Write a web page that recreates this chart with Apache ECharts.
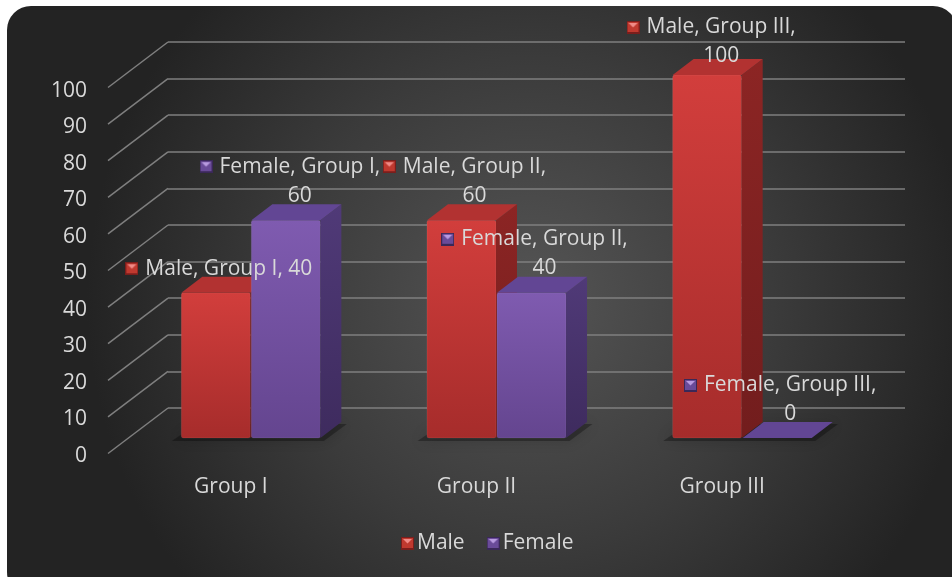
<!DOCTYPE html>
<html>
<head>
<meta charset="utf-8">
<script src="https://cdn.jsdelivr.net/npm/echarts@6/dist/echarts.min.js"></script>
<style>
  html, body { margin: 0; padding: 0; background: #ffffff; }
  #chart { width: 952px; height: 577px; }
</style>
</head>
<body>
<div id="chart"></div>
<script>
// ---- data ----
const categories = ['Group I', 'Group II', 'Group III'];
const seriesNames = ['Male', 'Female'];
const maleValues = [40, 60, 100];
const femaleValues = [60, 40, 0];
const yTicks = [0, 10, 20, 30, 40, 50, 60, 70, 80, 90, 100];

// ---- look ----
const FONT = '"Open Sans", "DejaVu Sans", sans-serif';
const FONT_SIZE = 21;
const TEXT = '#d9d9d9';
const GRID_LINE = '#7f7f7f';
const DEPTH_X = 21, DEPTH_Y = -16;         // receding offset of the box faces
const WALL_X = 60, WALL_Y = 45.5;          // floor depth between front and back wall
const palette = {
  Male:   { front: ['#d23e3c', '#a62c2b'], top: '#b23231', side: ['#8c2524', '#721d1d'], key: '#c0392f', keyHi: '#f08a86', keyLo: '#7a1e1c' },
  Female: { front: ['#7f5bb0', '#64458f'], top: '#624694', side: ['#503a78', '#3e2b5e'], key: '#6a4b99', keyHi: '#b89ae0', keyLo: '#3a2858' }
};
// label placement around each bar top: [dx, dy, wrap before value]
const labelPlacement = {
  Male:   [[3, -24, false], [3, -39, true], [4, -33, true]],
  Female: [[4, -39, true], [3, -39, true], [3, -38, true]]
};

// bevelled square used as legend / label key
function makeKey(c) {
  const s = 13, cv = document.createElement('canvas');
  cv.width = s; cv.height = s;
  const g = cv.getContext('2d');
  g.fillStyle = c.keyLo; g.fillRect(0, 0, s, s);
  g.fillStyle = c.key; g.fillRect(1, 1, s - 2, s - 3);
  g.fillStyle = c.keyHi;
  g.beginPath(); g.moveTo(2, 2); g.lineTo(s - 2, 2); g.lineTo(s / 2, s / 2); g.closePath(); g.fill();
  return cv;
}
const keys = { Male: makeKey(palette.Male), Female: makeKey(palette.Female) };

const chart = echarts.init(document.getElementById('chart'), null, { renderer: 'canvas' });

function boxItem(slot) {
  const name = seriesNames[slot];
  const col = palette[name];
  return function (params, api) {
    const idx = api.value(0), v = api.value(1);
    const band = api.size([1, 0])[0];
    const barW = band * 0.281, gap = 1;
    const base = api.coord([idx, 0]);
    const top = api.coord([idx, v]);
    const x0 = slot === 0 ? base[0] - gap / 2 - barW : base[0] + gap / 2;
    const x1 = x0 + barW, yT = top[1], yB = base[1];
    const children = [];
    if (yB - yT > 0.5) {
      children.push({
        type: 'rect', shape: { x: x0, y: yT, width: barW, height: yB - yT, r: 2 },
        style: { fill: new echarts.graphic.LinearGradient(0, 0, 0, 1, [
          { offset: 0, color: col.front[0] }, { offset: 1, color: col.front[1] }]),
          stroke: 'rgba(255,255,255,0.07)', lineWidth: 1 }
      });
      children.push({
        type: 'polygon',
        shape: { points: [[x1, yT], [x1 + DEPTH_X, yT + DEPTH_Y], [x1 + DEPTH_X, yB + DEPTH_Y], [x1, yB]] },
        style: { fill: new echarts.graphic.LinearGradient(0, 0, 0, 1, [
          { offset: 0, color: col.side[0] }, { offset: 1, color: col.side[1] }]) }
      });
    }
    children.push({
      type: 'polygon',
      shape: { points: [[x0, yT], [x1, yT], [x1 + DEPTH_X, yT + DEPTH_Y], [x0 + DEPTH_X, yT + DEPTH_Y]] },
      style: { fill: col.top }
    });
    // data label: key, series, category, value
    const lp = labelPlacement[name][idx];
    const head = name + ', ' + categories[idx] + ',';
    const text = lp[2]
      ? '{k|}{g|}{t|' + head + '}\n{s|}{t|' + v + '}'
      : '{k|}{g|}{t|' + head + ' ' + v + '}';
    children.push({
      type: 'text', z2: 100,
      style: {
        x: (x0 + x1) / 2 + lp[0], y: yT + lp[1],
        align: 'center', verticalAlign: 'middle',
        text: text,
        rich: {
          k: { width: 13, height: 13, backgroundColor: { image: keys[name] } },
          g: { width: 7 },
          s: { width: 20 },
          t: { fontFamily: FONT, fontSize: FONT_SIZE, fill: TEXT, color: TEXT, lineHeight: 29 }
        }
      }
    });
    return { type: 'group', children: children };
  };
}

function shadowItem(params, api) {
  const idx = api.value(0);
  const band = api.size([1, 0])[0];
  const barW = band * 0.281;
  const base = api.coord([idx, 0]);
  const xa = base[0] - barW, xb = base[0] + barW;
  const y = base[1];
  return {
    type: 'polygon',
    shape: { points: [[xa - 10, y + 3], [xb + 4, y + 3], [xb + DEPTH_X + 6, y + DEPTH_Y + 2], [xa + DEPTH_X - 6, y + DEPTH_Y + 2]] },
    style: { fill: 'rgba(0,0,0,0.3)', shadowBlur: 14, shadowColor: 'rgba(0,0,0,0.55)' }
  };
}

function wallDiagonal(params, api) {
  const y = api.coord([0, api.value(1)])[1];
  const x = params.coordSys.x;
  return {
    type: 'line',
    shape: { x1: x - WALL_X, y1: y + WALL_Y, x2: x, y2: y },
    style: { stroke: GRID_LINE, lineWidth: 1.5 }
  };
}

const hiddenCat = { type: 'category', data: categories, show: false };
const hiddenVal = { type: 'value', min: 0, max: 100, interval: 10, show: false };

chart.setOption({
  backgroundColor: '#ffffff',
  animation: false,
  graphic: {
    elements: [{
      type: 'rect', z: -100, silent: true,
      shape: { x: 7, y: 6, width: 950, height: 590, r: 24 },
      style: { fill: new echarts.graphic.RadialGradient(0.55, 0.5, 0.75, [
        { offset: 0, color: '#555555' }, { offset: 0.55, color: '#3b3b3b' }, { offset: 1, color: '#232323' }]) }
    }]
  },
  textStyle: { fontFamily: FONT },
  legend: {
    data: [
      { name: 'Male', icon: 'image://' + keys.Male.toDataURL() },
      { name: 'Female', icon: 'image://' + keys.Female.toDataURL() }
    ],
    left: 396, top: 528, itemWidth: 13, itemHeight: 13, itemGap: 22,
    textStyle: { color: TEXT, fontSize: FONT_SIZE, fontFamily: FONT, padding: [0, 0, 0, -2] },
    selectedMode: false
  },
  grid: [
    // back wall
    { left: 168, right: 47, top: 42, bottom: 169 },
    // front edge (axis labels)
    { left: 108, right: 107, top: 88, bottom: 124 },
    // plane of the bars
    { left: 128, right: 87, top: 75, bottom: 139 }
  ],
  xAxis: [
    Object.assign({ gridIndex: 0 }, hiddenCat),
    { gridIndex: 1, type: 'category', data: categories,
      axisLine: { show: false }, axisTick: { show: false },
      axisLabel: { color: TEXT, fontSize: FONT_SIZE, fontFamily: FONT, margin: 24 } },
    Object.assign({ gridIndex: 2 }, hiddenCat)
  ],
  yAxis: [
    { gridIndex: 0, type: 'value', min: 0, max: 100, interval: 10,
      axisLine: { show: false }, axisTick: { show: false }, axisLabel: { show: false },
      splitLine: { show: true, lineStyle: { color: GRID_LINE, width: 1.5 } } },
    { gridIndex: 1, type: 'value', min: 0, max: 100, interval: 10,
      axisLine: { show: false }, axisTick: { show: false }, splitLine: { show: false },
      axisLabel: { margin: 21, formatter: '{n|{value}}',
        rich: { n: { color: TEXT, fontSize: FONT_SIZE, fontFamily: FONT, padding: [6, 0, 0, 0] } } } },
    Object.assign({ gridIndex: 2 }, hiddenVal)
  ],
  series: [
    { type: 'custom', name: 'wall', xAxisIndex: 0, yAxisIndex: 0, clip: false, silent: true,
      renderItem: wallDiagonal, data: yTicks.map(v => [0, v]) },
    { type: 'custom', name: 'floor shadow', xAxisIndex: 2, yAxisIndex: 2, clip: false, silent: true,
      renderItem: shadowItem, data: categories.map((c, i) => [i, 0]) },
    { type: 'custom', name: 'Male', xAxisIndex: 2, yAxisIndex: 2, clip: false,
      itemStyle: { color: palette.Male.key },
      renderItem: boxItem(0), data: maleValues.map((v, i) => [i, v]) },
    { type: 'custom', name: 'Female', xAxisIndex: 2, yAxisIndex: 2, clip: false,
      itemStyle: { color: palette.Female.key },
      renderItem: boxItem(1), data: femaleValues.map((v, i) => [i, v]) }
  ]
});
</script>
</body>
</html>
